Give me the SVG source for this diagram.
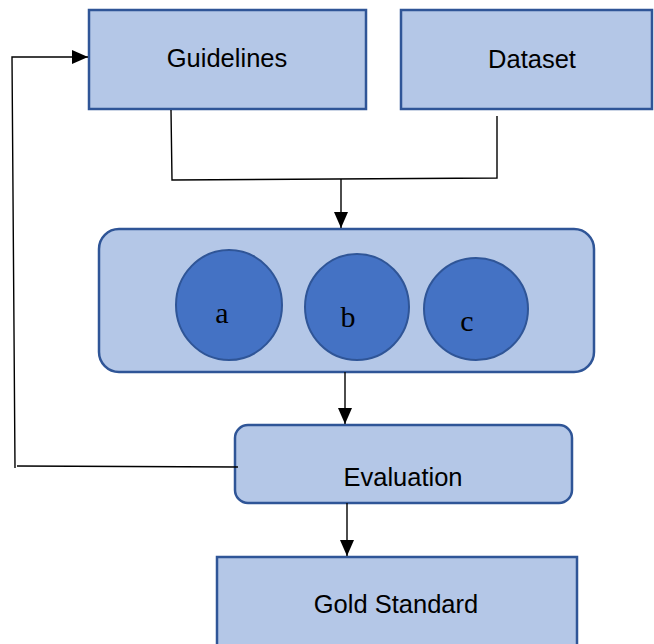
<svg xmlns="http://www.w3.org/2000/svg" width="654" height="644" viewBox="0 0 654 644">
  <style>
    .box { fill: #B4C7E7; stroke: #2F5597; stroke-width: 2.5; }
    .dot { fill: #4472C4; stroke: #2F5597; stroke-width: 2; }
    .lbl { font-family: "Liberation Sans", Arial, sans-serif; font-size: 25.5px; fill: #000; }
    .let { font-family: "Liberation Serif", "Times New Roman", serif; font-size: 30px; fill: #000; }
    .wire { fill: none; stroke: #000; stroke-width: 1.4; }
  </style>
  <defs>
    <marker id="head" viewBox="0 0 16 14" refX="16" refY="7" markerWidth="16" markerHeight="14" markerUnits="userSpaceOnUse" orient="auto">
      <path d="M0,0 L16,7 L0,14 Z" fill="#000"/>
    </marker>
  </defs>

  <rect width="654" height="644" fill="#fff"/>

  <g id="guidelines">
    <rect class="box" x="89" y="10" width="277" height="99"/>
    <text class="lbl" x="227" y="67" text-anchor="middle">Guidelines</text>
  </g>

  <g id="dataset">
    <rect class="box" x="401" y="10" width="251" height="99"/>
    <text class="lbl" x="532" y="68" text-anchor="middle">Dataset</text>
  </g>

  <g id="annotators">
    <rect class="box" x="99" y="229" width="495" height="143" rx="20" ry="20"/>
    <g id="annotator-a">
      <ellipse class="dot" cx="229" cy="305" rx="53" ry="55"/>
      <text class="let" x="222" y="323" text-anchor="middle">a</text>
    </g>
    <g id="annotator-b">
      <ellipse class="dot" cx="357" cy="307" rx="52" ry="53"/>
      <text class="let" x="348" y="327" text-anchor="middle">b</text>
    </g>
    <g id="annotator-c">
      <ellipse class="dot" cx="476" cy="309" rx="52" ry="51"/>
      <text class="let" x="467" y="331" text-anchor="middle">c</text>
    </g>
  </g>

  <g id="evaluation">
    <rect class="box" x="235" y="425" width="337" height="78" rx="13" ry="13"/>
    <text class="lbl" x="403" y="486" text-anchor="middle">Evaluation</text>
  </g>

  <g id="gold-standard">
    <rect class="box" x="217" y="557" width="360" height="95"/>
    <text class="lbl" x="396" y="613" text-anchor="middle">Gold Standard</text>
  </g>

  <g id="connectors">
    <!-- merge of the two inputs -->
    <polyline class="wire" points="171,110 172,180 497,178 497,116"/>
    <line class="wire" x1="341" y1="179" x2="341" y2="228" marker-end="url(#head)"/>
    <!-- annotators to evaluation -->
    <line class="wire" x1="345" y1="372" x2="345" y2="424" marker-end="url(#head)"/>
    <!-- evaluation to gold standard -->
    <line class="wire" x1="347" y1="503" x2="347" y2="556" marker-end="url(#head)"/>
    <!-- feedback loop back to guidelines -->
    <polyline class="wire" points="238,467 17,466"/>
    <polyline class="wire" points="15,468 12,57 88,57" marker-end="url(#head)"/>
  </g>
</svg>
